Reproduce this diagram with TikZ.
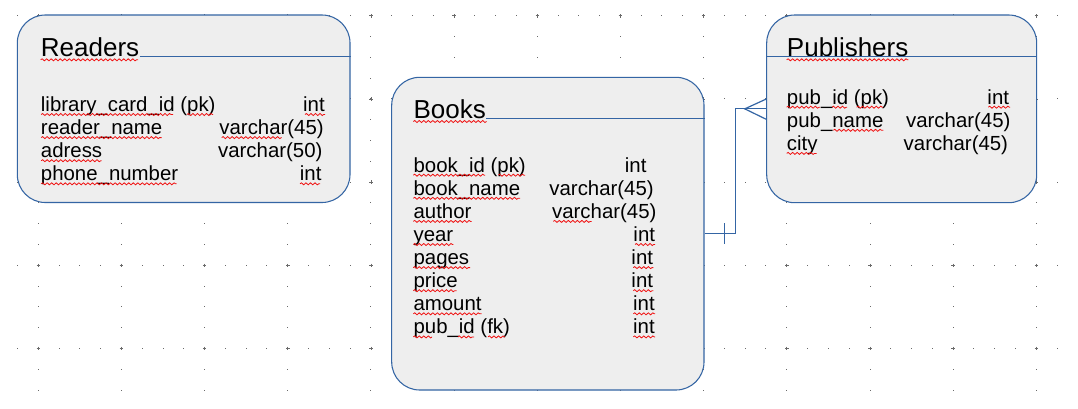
\documentclass[tikz,border=0pt]{standalone}
\usepackage{fontspec}
\setmainfont{Liberation Sans}
\usetikzlibrary{calc,fit,decorations.pathmorphing}
\definecolor{lineblue}{HTML}{3465A4}
\definecolor{boxfill}{HTML}{EEEEEE}
\definecolor{gridc}{HTML}{6A6A6A}
\definecolor{spell}{HTML}{F01010}
\tikzset{
  tbl/.style={draw=lineblue, fill=boxfill, line width=0.8pt, rounded corners=21pt, inner sep=0pt},
  ttl/.style={font=\fontsize{19.5}{22}\selectfont, inner sep=0pt, anchor=base west},
  fld/.style={font=\fontsize{15.3}{18}\selectfont, inner sep=0pt, anchor=base west},
  typ/.style={font=\fontsize{15.3}{18}\selectfont, inner sep=0pt, anchor=base east},
  rule/.style={draw=lineblue, line width=0.8pt},
  conn/.style={draw=lineblue, line width=0.9pt},
  sq/.style={draw=spell, line width=0.6pt, decorate, decoration={snake, amplitude=0.75pt, segment length=3.4pt}},
  gdot/.style={fill=gridc},
  gcross/.style={draw=gridc, line width=0.6pt},
}
\newcommand\sqline[3]{\draw[sq] (#1,#3) -- (#2,#3);}
\begin{document}
\begin{tikzpicture}[x=0.75pt,y=-0.75pt]
\fill[white] (0,0) rectangle (1078,408);
\useasboundingbox (0,0) rectangle (1078,408);
% dotted grid
\foreach \i in {0,...,12}{
  \foreach \j in {0,...,18}{
    \fill[gdot] ({38.3+83.17*\i-0.5},{15.8+20.79*\j-0.5}) rectangle ++(1,1);
  }
}
\foreach \k in {0,...,4}{
  \foreach \m in {0,...,50}{
    \fill[gdot] ({17.5+20.79*\m-0.5},{15.8+83.17*\k-0.5}) rectangle ++(1,1);
  }
  \foreach \i in {0,...,12}{
    \draw[gcross] ({38.3+83.17*\i-1.8},{15.8+83.17*\k}) -- ++(3.6,0)
                  ({38.3+83.17*\i},{15.8+83.17*\k-1.8}) -- ++(0,3.6);
  }
}
% tables
\node[tbl, fit={(17.3,15) (350,202.5)}] (readers) {};
\node[tbl, fit={(391.7,77.3) (704,390)}] (books) {};
\node[tbl, fit={(766.7,15) (1036.7,202.7)}] (publishers) {};

% Readers
\node[ttl] (rt) at (40.7,56.7) {Readers};
\draw[rule] (rt.base east) -- (rt.base east -| readers.east);
\node[fld] (r1) at (40.7,111.3) {library\_card\_id (pk)};
\node[fld] (r2) at (40.7,134.4) {reader\_name};
\node[fld] (r3) at (40.7,157.5) {adress};
\node[fld] (r4) at (40.7,180.6) {phone\_number};
\node[typ] (rt1) at (325,111.3) {int};
\node[typ] (rt2) at (324,134.4) {varchar(45)};
\node[typ] (rt3) at (322.7,157.5) {varchar(50)};
\node[typ] (rt4) at (321.7,180.6) {int};

% Books
\node[ttl] (bt) at (413.3,118.3) {Books};
\draw[rule] (bt.base east) -- (bt.base east -| books.east);
\node[fld] (b1) at (413.3,172.0) {book\_id (pk)};
\node[fld] (b2) at (413.3,195.1) {book\_name};
\node[fld] (b3) at (413.3,218.2) {author};
\node[fld] (b4) at (413.3,241.3) {year};
\node[fld] (b5) at (413.3,264.4) {pages};
\node[fld] (b6) at (413.3,287.5) {price};
\node[fld] (b7) at (413.3,310.6) {amount};
\node[fld] (b8) at (413.3,333.7) {pub\_id (fk)};
\node[typ] (bt1) at (646.7,172.0) {int};
\node[typ] (bt2) at (654,195.1) {varchar(45)};
\node[typ] (bt3) at (656.7,218.2) {varchar(45)};
\node[typ] (bt4) at (655.3,241.3) {int};
\node[typ] (bt5) at (653.3,264.4) {int};
\node[typ] (bt6) at (653.3,287.5) {int};
\node[typ] (bt7) at (655,310.6) {int};
\node[typ] (bt8) at (655,333.7) {int};

% Publishers
\node[ttl] (pt) at (786.7,56.7) {Publishers};
\draw[rule] (publishers.west |- pt.base) -- (publishers.east |- pt.base);
\node[fld] (p1) at (786.7,104.0) {pub\_id (pk)};
\node[fld] (p2) at (786.7,127.1) {pub\_name};
\node[fld] (p3) at (786.7,150.2) {city};
\node[typ] (pt1) at (1009.3,104.0) {int};
\node[typ] (pt2) at (1010.7,127.1) {varchar(45)};
\node[typ] (pt3) at (1008.3,150.2) {varchar(45)};

% spelling marks
\sqline{40.7}{138}{59.8}
\sqline{41.2}{173}{114.5}\sqline{187}{213}{114.5}\sqline{305}{325}{114.5}
\sqline{41.2}{161.7}{137.6}\sqline{221.7}{281.7}{137.6}
\sqline{41.2}{101.7}{160.7}
\sqline{41.2}{176.7}{183.8}\sqline{300}{320}{183.8}

\sqline{413.3}{486.7}{121.5}
\sqline{413.3}{485}{175.2}\sqline{498.3}{525}{175.2}
\sqline{413.3}{520}{198.3}
\sqline{413.3}{471.7}{221.4}\sqline{553.3}{591.7}{221.4}
\sqline{413.3}{453.3}{244.5}\sqline{635}{655}{244.5}
\sqline{413.3}{470}{267.6}\sqline{633.3}{653.3}{267.6}
\sqline{413.3}{456.7}{290.7}\sqline{633.3}{653.3}{290.7}
\sqline{413.3}{481.7}{313.8}\sqline{633.3}{655}{313.8}
\sqline{413.3}{432}{336.9}\sqline{458}{474}{336.9}\sqline{488}{505}{336.9}\sqline{633.3}{655}{336.9}

\sqline{786.7}{908.3}{59.8}
\sqline{786.7}{820}{107.2}\sqline{832}{847}{107.2}\sqline{856.7}{883}{107.2}\sqline{988.3}{1010}{107.2}
\sqline{833.3}{883.3}{130.3}
\sqline{786.7}{816.7}{153.4}

% relationship
\draw[conn] (books.east) -- ++(31,0) |- (publishers.west);
\draw[conn] ($(books.east)+(20.3,-10.3)$) -- ($(books.east)+(20.3,10.3)$);
\coordinate (cf) at ($(publishers.west)+(-21.4,0)$);
\draw[conn] ($(publishers.west)+(0,-9.8)$) -- (cf) -- ($(publishers.west)+(0,10.4)$);
\end{tikzpicture}
\end{document}
